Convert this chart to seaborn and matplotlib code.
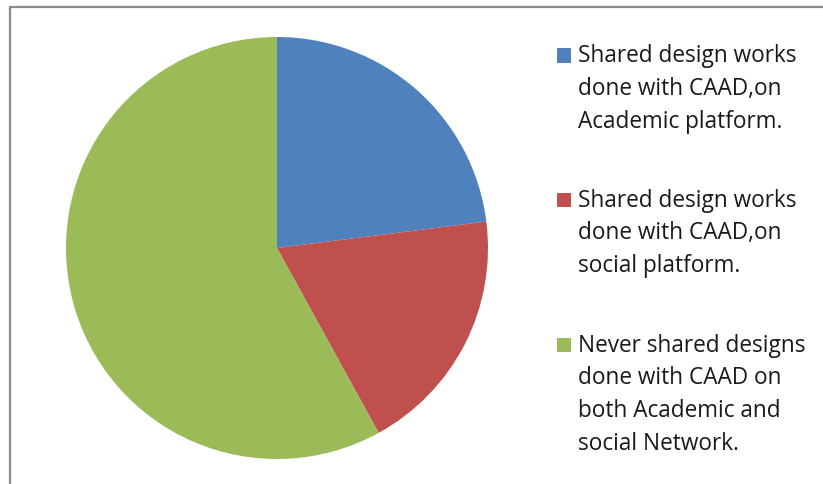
import matplotlib
matplotlib.use("Agg")
import matplotlib.pyplot as plt
from matplotlib.patches import Rectangle
import seaborn as sns

# Survey shares (percent) of how CAAD design works were shared
categories = [
    "Shared design works\ndone with CAAD,on\nAcademic platform.",
    "Shared design works\ndone with CAAD,on\nsocial platform.",
    "Never shared designs\ndone with CAAD on\nboth Academic and\nsocial Network.",
]
values = [23, 19, 58]
colors = ["#4F81BD", "#C0504D", "#9BBB59"]

sns.set_theme(style="white")
plt.rcParams["font.family"] = ["Open Sans", "DejaVu Sans"]

W, H = 823, 484
fig = plt.figure(figsize=(W / 100, H / 100), dpi=100)
fig.patch.set_facecolor("white")


def fx(px):
    return px / W


def fy(py):
    return 1 - py / H


# Pie area: square axes centred on the pie
cx, cy, r = 277, 248, 211
ax = fig.add_axes([fx(cx - r), fy(cy + r), 2 * r / W, 2 * r / H])
ax.pie(values, colors=colors, startangle=90, counterclock=False,
       wedgeprops=dict(linewidth=0))
ax.set_xlim(-1, 1)
ax.set_ylim(-1, 1)
ax.set_aspect("auto")
ax.axis("off")

# Chart frame (open to the right and bottom)
fig.add_artist(Rectangle((fx(10), fy(H + 10)), fx(W + 10), (H + 3) / H,
                         transform=fig.transFigure, fill=False,
                         edgecolor="#8a8a8a", linewidth=1.6))

# Legend: square swatch plus wrapped label lines
first_baseline = [62.5, 207, 352]
line_step = 32.5
for label, color, base in zip(categories, colors, first_baseline):
    fig.add_artist(Rectangle((fx(557), fy(base)), 14 / W, 14 / H,
                             transform=fig.transFigure, facecolor=color,
                             edgecolor="none"))
    for i, line in enumerate(label.split("\n")):
        fig.text(fx(578), fy(base + i * line_step), line, fontsize=16.3,
                 color="#1a1a1a", ha="left", va="baseline")

fig.savefig("out.png", dpi=100, facecolor="white")
